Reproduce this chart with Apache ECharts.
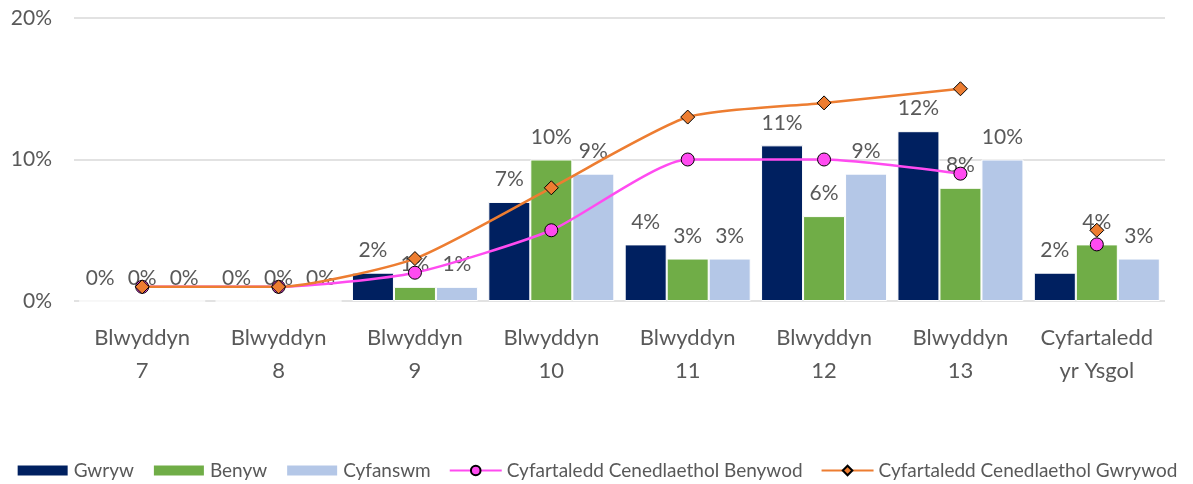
<!DOCTYPE html>
<html>
<head>
<meta charset="UTF-8">
<script src="https://cdn.jsdelivr.net/npm/echarts@6/dist/echarts.min.js"></script>
<title>Blwyddyn</title>
<style>
html, body { margin: 0; padding: 0; background: #fff; }
#chart { width: 1193px; height: 484px; }
</style>
</head>
<body>
<div id="chart"></div>
<script>
var categories = ['Blwyddyn\n7', 'Blwyddyn\n8', 'Blwyddyn\n9', 'Blwyddyn\n10', 'Blwyddyn\n11', 'Blwyddyn\n12', 'Blwyddyn\n13', 'Cyfartaledd\nyr Ysgol'];
var gwryw = [0, 0, 2, 7, 4, 11, 12, 2];
var benyw = [0, 0, 1, 10, 3, 6, 8, 4];
var cyfanswm = [0, 0, 1, 9, 3, 9, 10, 3];
// national averages: years 7-13 joined by a line, school average point on its own
var benywodLine = [1, 1, 2, 5, 10, 10, 9, '-'];
var benywodAvg = ['-', '-', '-', '-', '-', '-', '-', 4];
var gwrywodLine = [1, 1, 3, 8, 13, 14, 15, '-'];
var gwrywodAvg = ['-', '-', '-', '-', '-', '-', '-', 5];

var font = 'Lato, "Open Sans", sans-serif';
var textColor = '#595959';

function barSeries(name, data, color) {
	return {
		name: name,
		type: 'bar',
		data: data,
		barWidth: 42,
		barGap: '0%',
		itemStyle: { color: color, borderColor: '#ffffff', borderWidth: 1 },
		label: {
			show: true,
			position: 'top',
			distance: 12,
			formatter: '{c}%',
			color: textColor,
			fontSize: 21,
			fontFamily: font
		},
		z: 2
	};
}

function lineSeries(name, data, color, symbol, size) {
	return {
		name: name,
		type: 'line',
		data: data,
		smooth: 0.2,
		symbol: symbol,
		symbolSize: size,
		showAllSymbol: true,
		lineStyle: { color: color, width: 2.5 },
		itemStyle: { color: color, borderColor: '#000', borderWidth: 1 },
		z: 5
	};
}

var chart = echarts.init(document.getElementById('chart'));
var option = {
	animation: false,
	textStyle: { fontFamily: font },
	grid: { left: 74, right: 28, top: 18, bottom: 183 },
	legend: {
		top: 461,
		left: 'center',
		width: 1193,
		padding: 0,
		itemGap: 18,
		itemWidth: 52,
		itemHeight: 12,
		textStyle: { color: textColor, fontSize: 19, fontFamily: font },
		data: [
			{ name: 'Gwryw', icon: 'rect' },
			{ name: 'Benyw', icon: 'rect' },
			{ name: 'Cyfanswm', icon: 'rect' },
			'Cyfartaledd Cenedlaethol Benywod',
			'Cyfartaledd Cenedlaethol Gwrywod'
		]
	},
	xAxis: {
		type: 'category',
		data: categories,
		axisLine: { show: false },
		axisTick: { show: false },
		axisLabel: {
			color: textColor,
			fontSize: 22,
			lineHeight: 33,
			margin: 20,
			interval: 0,
			fontFamily: font
		}
	},
	yAxis: {
		type: 'value',
		min: 0,
		max: 20,
		interval: 10,
		axisLine: { show: false },
		axisTick: { show: false },
		splitLine: { lineStyle: { color: '#d9d9d9', width: 1.5 } },
		axisLabel: {
			formatter: '{value}%',
			color: textColor,
			fontSize: 21,
			margin: 22,
			fontFamily: font
		}
	},
	series: [
		barSeries('Gwryw', gwryw, '#002060'),
		barSeries('Benyw', benyw, '#70ad47'),
		barSeries('Cyfanswm', cyfanswm, '#b4c7e7'),
		lineSeries('Cyfartaledd Cenedlaethol Benywod', benywodLine, '#ff4bf0', 'circle', 13),
		lineSeries('Cyfartaledd Cenedlaethol Benywod', benywodAvg, '#ff4bf0', 'circle', 13),
		lineSeries('Cyfartaledd Cenedlaethol Gwrywod', gwrywodLine, '#ed7d31', 'diamond', 14),
		lineSeries('Cyfartaledd Cenedlaethol Gwrywod', gwrywodAvg, '#ed7d31', 'diamond', 14)
	]
};
chart.setOption(option);
</script>
</body>
</html>
